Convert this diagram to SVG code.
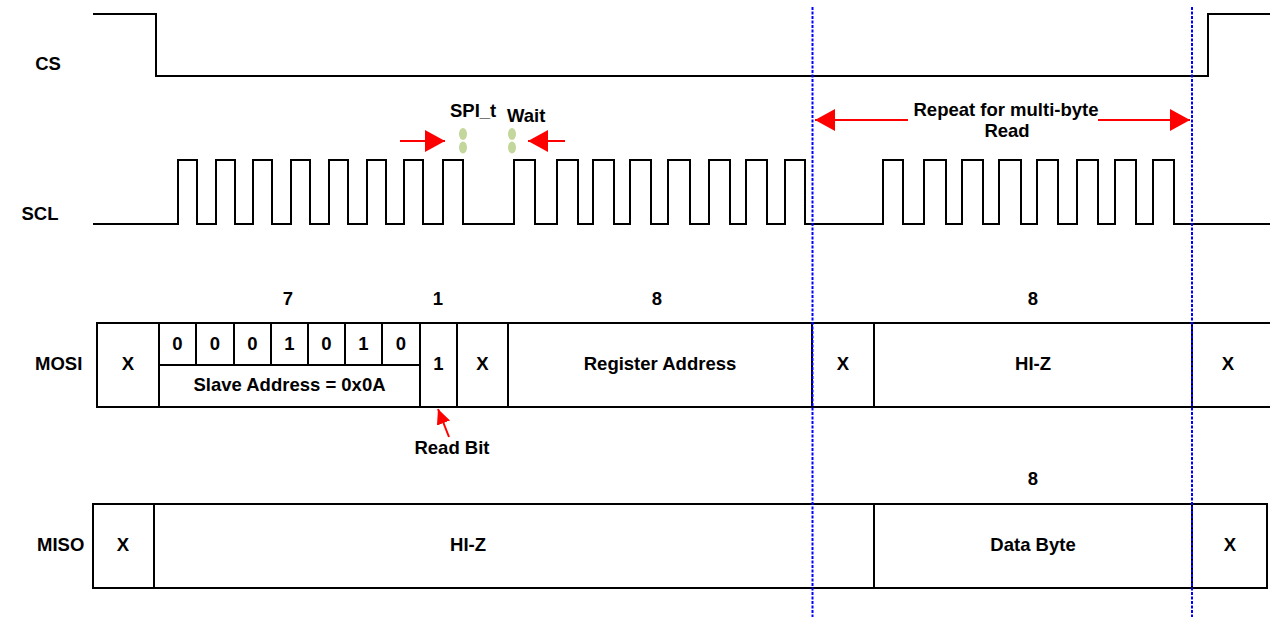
<svg xmlns="http://www.w3.org/2000/svg" width="1270" height="617" viewBox="0 0 1270 617">
<style>
.w{fill:none;stroke:#000;stroke-width:2;stroke-linejoin:miter}
.b{fill:#fff;stroke:#000;stroke-width:2}
.l{stroke:#000;stroke-width:2}
.t{font-family:"Liberation Sans",Arial,sans-serif;font-weight:bold;font-size:18.5px;fill:#000;text-anchor:middle}
.s{text-anchor:start}
.r{stroke:#ff0000;stroke-width:2;fill:none}
.bl{stroke:#0000ff;stroke-width:2;stroke-dasharray:3 1.5;fill:none}
.g{fill:#c3d69b}
</style>
<defs>
<marker id="ah" markerUnits="userSpaceOnUse" markerWidth="22" markerHeight="22" refX="20" refY="11" orient="auto"><path d="M0,0 L20,11 L0,22 Z" fill="#ff0000"/></marker>
<marker id="ahs" markerUnits="userSpaceOnUse" markerWidth="16" markerHeight="14" refX="15" refY="7" orient="auto"><path d="M0,0 L15,7 L0,14 Z" fill="#ff0000"/></marker>
</defs>
<rect width="1270" height="617" fill="#fff"/>

<g id="cs">
<path class="w" d="M93,14 H156 V76 H1208 V14 H1270"/>
<text class="t" x="48" y="70">CS</text>
</g>

<g id="scl">
<path class="w" d="M93,224 H178 V160 H197 V224 H216 V160 H235 V224 H253 V160 H272 V224 H291 V160 H310 V224 H329 V160 H348 V224 H367 V160 H386 V224 H404 V160 H423 V224 H443 V160 H463 V224 H514 V160 H535 V224 H557 V160 H578 V224 H593 V160 H614 V224 H630 V160 H651 V224 H668 V160 H690 V224 H709 V160 H730 V224 H746 V160 H767 V224 H785 V160 H805 V224 H883 V160 H903 V224 H924 V160 H946 V224 H962 V160 H983 V224 H999 V160 H1021 V224 H1037 V160 H1058 V224 H1077 V160 H1098 V224 H1115 V160 H1136 V224 H1153 V160 H1174 V224 H1270"/>
<text class="t" x="40" y="220">SCL</text>
</g>

<g id="spi-wait">
<ellipse class="g" cx="463" cy="134" rx="4" ry="6"/>
<ellipse class="g" cx="463" cy="147.5" rx="4" ry="6"/>
<ellipse class="g" cx="512" cy="134" rx="4" ry="6"/>
<ellipse class="g" cx="512" cy="147.5" rx="4" ry="6"/>
<text class="t s" x="450" y="117">SPI_t</text>
<text class="t s" x="507" y="122">Wait</text>
</g>

<g id="repeat-label">
<text class="t" x="1006" y="116">Repeat for multi-byte</text>
<text class="t" x="1007" y="137">Read</text>
</g>

<g id="mosi">
<text class="t s" x="35" y="370">MOSI</text>
<line class="l" x1="97" y1="323" x2="1270" y2="323"/>
<line class="l" x1="97" y1="407" x2="1270" y2="407"/>
<line class="l" x1="97" y1="322" x2="97" y2="408"/>
<line class="l" x1="159" y1="323" x2="159" y2="407"/>
<line class="l" x1="420" y1="323" x2="420" y2="407"/>
<line class="l" x1="457" y1="323" x2="457" y2="407"/>
<line class="l" x1="508" y1="323" x2="508" y2="407"/>
<line class="l" x1="812" y1="323" x2="812" y2="407"/>
<line class="l" x1="874" y1="323" x2="874" y2="407"/>
<line class="l" x1="1192" y1="323" x2="1192" y2="407"/>
<line class="l" x1="159" y1="365" x2="420" y2="365"/>
<line class="l" x1="196" y1="323" x2="196" y2="365"/>
<line class="l" x1="234" y1="323" x2="234" y2="365"/>
<line class="l" x1="271" y1="323" x2="271" y2="365"/>
<line class="l" x1="308" y1="323" x2="308" y2="365"/>
<line class="l" x1="345" y1="323" x2="345" y2="365"/>
<line class="l" x1="382" y1="323" x2="382" y2="365"/>
<text class="t" x="288" y="305">7</text>
<text class="t" x="438" y="305">1</text>
<text class="t" x="657" y="305">8</text>
<text class="t" x="1033" y="305">8</text>
<text class="t" x="128" y="370">X</text>
<text class="t" x="177.5" y="350">0</text>
<text class="t" x="215" y="350">0</text>
<text class="t" x="252.5" y="350">0</text>
<text class="t" x="289.5" y="350">1</text>
<text class="t" x="326.5" y="350">0</text>
<text class="t" x="363.5" y="350">1</text>
<text class="t" x="401" y="350">0</text>
<text class="t" x="289.5" y="391">Slave Address = 0x0A</text>
<text class="t" x="438.5" y="370">1</text>
<text class="t" x="482.5" y="370">X</text>
<text class="t" x="660" y="370">Register Address</text>
<text class="t" x="843" y="370">X</text>
<text class="t" x="1033" y="370">HI-Z</text>
<text class="t" x="1228" y="370">X</text>
<text class="t" x="452" y="454">Read Bit</text>
</g>

<g id="miso">
<text class="t s" x="37" y="551">MISO</text>
<rect class="b" x="93" y="504" width="1174" height="84"/>
<line class="l" x1="154" y1="504" x2="154" y2="588"/>
<line class="l" x1="874" y1="504" x2="874" y2="588"/>
<line class="l" x1="1192" y1="504" x2="1192" y2="588"/>
<text class="t" x="1033" y="485">8</text>
<text class="t" x="123" y="551">X</text>
<text class="t" x="468" y="551">HI-Z</text>
<text class="t" x="1033" y="551">Data Byte</text>
<text class="t" x="1230" y="551">X</text>
</g>

<g id="connectors">
<line class="bl" x1="812.5" y1="7" x2="812.5" y2="617"/>
<line class="bl" x1="1192" y1="7" x2="1192" y2="617"/>
<line class="r" x1="908" y1="120" x2="815" y2="120" marker-end="url(#ah)"/>
<line class="r" x1="1098" y1="120" x2="1190" y2="120" marker-end="url(#ah)"/>
<line class="r" x1="400" y1="141" x2="445" y2="141" marker-end="url(#ah)"/>
<line class="r" x1="565" y1="141" x2="528" y2="141" marker-end="url(#ah)"/>
<line class="r" x1="449" y1="437" x2="438" y2="409" marker-end="url(#ahs)"/>
</g>
</svg>
